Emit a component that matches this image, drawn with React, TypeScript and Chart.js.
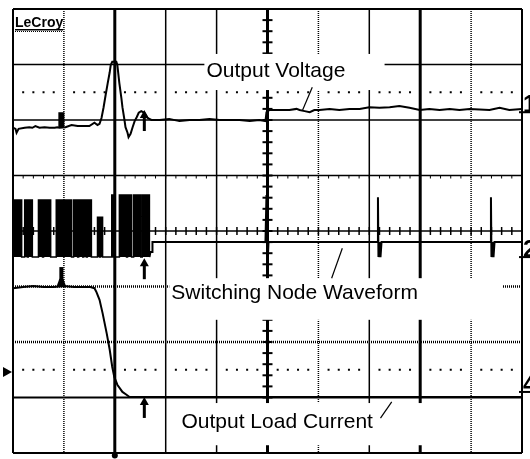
import React, { useEffect, useRef } from "react";
import { Chart, registerables } from "chart.js";

Chart.register(...registerables);

// Time in graticule divisions from screen centre (-5..5), amplitude in divisions (-4..4)
const ch1Time = [-5.0,-4.95,-4.93,-4.89,-4.77,-4.68,-4.62,-4.56,-4.48,-4.38,-4.28,-4.18,-4.13,-4.09,-3.97,-3.85,-3.73,-3.60,-3.50,-3.40,-3.34,-3.30,-3.26,-3.22,-3.18,-3.14,-3.10,-3.08,-3.05,-2.97,-2.95,-2.91,-2.87,-2.85,-2.81,-2.79,-2.75,-2.73,-2.69,-2.65,-2.61,-2.57,-2.53,-2.48,-2.42,-2.36,-2.28,-2.12,-1.93,-1.73,-1.53,-1.34,-1.14,-0.94,-0.75,-0.55,-0.35,-0.16,-0.04,-0.02,0.04,0.24,0.43,0.57,0.63,0.73,0.83,0.92,1.02,1.22,1.41,1.61,1.81,2.00,2.20,2.40,2.59,2.79,2.99,3.18,3.38,3.58,3.77,3.97,4.36,4.56,4.75,5.0];
const ch1Level = [1.86,1.84,1.77,1.84,1.86,1.87,1.86,1.89,1.86,1.87,1.86,1.86,1.87,1.86,1.87,1.91,1.89,1.89,1.89,1.95,1.91,1.93,2.04,2.23,2.45,2.66,2.86,2.99,3.05,3.05,2.99,2.66,2.39,2.23,2.00,1.87,1.77,1.69,1.75,1.87,1.98,2.05,2.13,2.16,2.13,2.04,2.00,2.00,2.02,1.98,2.00,2.00,2.02,2.00,2.00,2.00,1.98,2.00,1.98,2.14,2.18,2.18,2.18,2.20,2.18,2.16,2.14,2.18,2.18,2.20,2.18,2.20,2.20,2.23,2.22,2.23,2.25,2.22,2.18,2.20,2.18,2.20,2.18,2.20,2.18,2.22,2.18,2.20];

const ch2BurstStart = [-5.0,-4.77,-4.70,-4.50,-4.40,-4.15,-3.81,-3.71,-3.61,-3.54,-3.34,-3.28,-3.06,-2.91,-2.75,-2.63,-2.46];
const ch2BurstEnd = [-4.83,-4.72,-4.62,-4.42,-4.26,-3.85,-3.73,-3.63,-3.56,-3.46,-3.30,-3.24,-3.03,-2.77,-2.67,-2.49,-2.32];
const ch2BurstTop = [0.56,0.56,0.56,0.56,0.56,0.56,0.56,0.56,0.56,0.56,0.25,0.25,0.65,0.65,0.65,0.65,0.65];
const ch2Low = -0.47;
const ch2TailTime = [-2.32,-2.30,-2.26,-2.26,-0.04,-0.02,0.00,0.02,2.16,2.17,2.18,2.20,2.22,2.24,4.38,4.39,4.40,4.42,4.44,4.46,5.0];
const ch2TailLevel = [-0.47,-0.38,-0.38,-0.20,-0.20,0.65,-0.60,-0.20,-0.20,0.61,-0.47,-0.20,-0.47,-0.20,-0.20,0.61,-0.47,-0.20,-0.47,-0.20,-0.20];

const ch3Time = [-5.0,-4.8,-4.6,-4.4,-4.2,-4.0,-3.8,-3.6,-3.48,-3.40,-3.36,-3.30,-3.24,-3.16,-3.10,-3.05,-3.01,-2.95,-2.85,-2.77,-2.71,-2.5,5.0];
const ch3Level = [-1.03,-1.01,-0.99,-1.01,-1.01,-0.99,-1.01,-1.01,-1.01,-1.03,-1.10,-1.24,-1.48,-1.84,-2.14,-2.45,-2.63,-2.77,-2.90,-2.95,-2.99,-2.99,-2.99];

const cursorTime = -2.42;
const cursorLevels = [2.18, -0.49, -2.99];
const triggerTime = -4.05;
const channelNames = ["1", "2", "4"];
const channelMarkLevels = [2.14, -0.47, -2.9];
const traceLabels = ["Output Voltage", "Switching Node Waveform", "Output Load Current"];

const pts = (t: number[], v: number[]) => t.map((x, i) => ({ x, y: v[i] }));

function burstPoints() {
  const out: { x: number; y: number }[] = [];
  for (let i = 0; i < ch2BurstStart.length; i++) {
    out.push({ x: ch2BurstStart[i], y: ch2Low });
    out.push({ x: ch2BurstStart[i], y: ch2BurstTop[i] });
    out.push({ x: ch2BurstEnd[i], y: ch2BurstTop[i] });
    out.push({ x: ch2BurstEnd[i], y: ch2Low });
  }
  return out;
}

const graticule = {
  id: "graticule",
  beforeDatasetsDraw(chart: any) {
    const { ctx } = chart;
    const X = (v: number) => chart.scales.x.getPixelForValue(v);
    const Y = (v: number) => chart.scales.y.getPixelForValue(v);
    const top = Y(4), bottom = Y(-4), left = X(-5), right = X(5);
    ctx.save();
    ctx.fillStyle = "#fff";
    ctx.fillRect(0, 0, chart.width, chart.height);
    ctx.strokeStyle = "#000";
    ctx.fillStyle = "#000";
    const seg = (x1: number, y1: number, x2: number, y2: number, w: number, dotted: boolean) => {
      ctx.lineWidth = w;
      ctx.setLineDash(dotted ? [1, 1] : []);
      ctx.beginPath();
      ctx.moveTo(x1, y1);
      ctx.lineTo(x2, y2);
      ctx.stroke();
    };
    const vW = [2, 1.5, 3, 1.5, 1.5, 3, 1.5, 1.5, 3, 1.5, 2];
    const vDot = [false, true, false, false, false, false, true, false, false, true, false];
    for (let i = 0; i <= 10; i++) {
      const x = X(i - 5);
      seg(x, top, x, bottom, vW[i], vDot[i]);
    }
    const hW = [2, 1.5, 1.5, 1.5, 1.5, 2.5, 2.5, 2, 2];
    const hDot = [false, false, false, false, false, true, true, false, false];
    for (let j = 0; j <= 8; j++) {
      const y = Y(4 - j);
      seg(left, y, right, y, hW[j], hDot[j]);
    }
    ctx.setLineDash([]);
    // centre ticks
    for (let k = -25; k <= 25; k++) {
      const x = X(k / 5);
      seg(x, Y(0) - 4, x, Y(0) + 4, 1.5, false);
      seg(x, Y(1), x, Y(1) + 3, 1, false);
    }
    for (let k = -20; k <= 20; k++) {
      const y = Y(k / 5);
      seg(X(0) - 5, y, X(0) + 5, y, 2, false);
    }
    // half-division dotted rows
    for (let k = -25; k <= 25; k++) {
      if (k % 5 === 0) continue;
      const x = X(k / 5);
      ctx.fillRect(x - 1, Y(2.5) - 1, 2, 2);
      ctx.fillRect(x - 1, Y(-2.5) - 1, 2, 2);
    }
    // label boxes erase the graticule
    ctx.fillStyle = "#fff";
    const boxes = [
      [-1.24, 3.19, 2.3, 2.54],
      [-1.93, -0.85, 4.62, -1.6],
      [-1.81, -3.1, 3.48, -3.86],
    ];
    boxes.forEach(([x1, y1, x2, y2]) => ctx.fillRect(X(x1), Y(y1), X(x2) - X(x1), Y(y2) - Y(y1)));
    ctx.fillStyle = "#000";
    ctx.font = '21px "Liberation Sans", Arial, sans-serif';
    ctx.textBaseline = "alphabetic";
    ctx.textAlign = "left";
    const anchors = [
      [-1.2, 2.77],
      [-1.89, -1.23],
      [-1.69, -3.55],
    ];
    traceLabels.forEach((t, i) => ctx.fillText(t, X(anchors[i][0]), Y(anchors[i][1])));
    const leaders = [
      [0.88, 2.59, 0.69, 2.18],
      [1.47, -0.31, 1.26, -0.85],
      [2.44, -3.08, 2.22, -3.37],
    ];
    leaders.forEach(([a, b, c, d]) => seg(X(a), Y(b), X(c), Y(d), 1.2, false));
    ctx.restore();
  },
};

const overlay = {
  id: "overlay",
  afterDatasetsDraw(chart: any) {
    const { ctx } = chart;
    const X = (v: number) => chart.scales.x.getPixelForValue(v);
    const Y = (v: number) => chart.scales.y.getPixelForValue(v);
    ctx.save();
    ctx.fillStyle = "#000";
    ctx.strokeStyle = "#000";
    // trigger markers
    const tx = X(triggerTime);
    ctx.fillRect(tx - 3, Y(2.14), 6, Y(1.86) - Y(2.14));
    ctx.fillRect(tx - 2, Y(-0.65), 4, Y(-1.01) - Y(-0.65));
    ctx.beginPath();
    ctx.moveTo(tx - 5, Y(-1.01));
    ctx.lineTo(tx - 2, Y(-0.86));
    ctx.lineTo(tx + 2, Y(-0.86));
    ctx.lineTo(tx + 5, Y(-1.01));
    ctx.closePath();
    ctx.fill();
    // cursor arrows
    const cx = X(cursorTime);
    cursorLevels.forEach((lv) => {
      const y = Y(lv);
      ctx.beginPath();
      ctx.moveTo(cx, y);
      ctx.lineTo(cx - 4.5, y + 8);
      ctx.lineTo(cx + 4.5, y + 8);
      ctx.closePath();
      ctx.fill();
      ctx.fillRect(cx - 1.5, y + 7, 3, 14);
    });
    // channel markers on the right edge
    ctx.font = '900 24px "Liberation Sans", Arial, sans-serif';
    ctx.textAlign = "left";
    ctx.textBaseline = "alphabetic";
    channelNames.forEach((n, i) => {
      const y = Y(channelMarkLevels[i]);
      ctx.fillText(n, X(5) + 1, y);
      ctx.fillRect(X(5) - 3, y - 1, 12, 2);
    });
    // ground marker on the left
    const gy = Y(-2.54);
    ctx.beginPath();
    ctx.moveTo(3, gy - 5);
    ctx.lineTo(12, gy);
    ctx.lineTo(3, gy + 5);
    ctx.closePath();
    ctx.fill();
    // trigger position dot
    ctx.beginPath();
    ctx.arc(X(-3), Y(-4) + 2.5, 3, 0, Math.PI * 2);
    ctx.fill();
    // logo
    ctx.font = 'bold 14px "Liberation Sans", Arial, sans-serif';
    ctx.fillText("LeCroy", X(-5) + 2, Y(4) + 18);
    ctx.fillRect(X(-5) + 2, Y(4) + 20, 48, 1.5);
    for (let k = 0; k < 24; k++) ctx.fillRect(X(-5) + 2 + k * 2, Y(4) + 22, 1, 1);
    ctx.restore();
  },
};

export default function App() {
  const ref = useRef<HTMLCanvasElement>(null);
  useEffect(() => {
    if (!ref.current) return;
    const line = { borderColor: "#000", borderWidth: 2, pointRadius: 0, tension: 0, fill: false };
    const chart = new Chart(ref.current, {
      type: "line",
      data: {
        datasets: [
          { ...line, label: "Output Voltage", data: pts(ch1Time, ch1Level) },
          {
            ...line,
            label: "Switching bursts",
            data: burstPoints(),
            borderWidth: 1.5,
            fill: { value: ch2Low },
            backgroundColor: "#000",
          },
          { ...line, label: "Switching Node Waveform", data: pts(ch2TailTime, ch2TailLevel) },
          { ...line, label: "Output Load Current", data: pts(ch3Time, ch3Level) },
        ],
      } as any,
      options: {
        animation: false,
        responsive: false,
        maintainAspectRatio: false,
        events: [],
        layout: { padding: { left: 13, top: 9, right: 8, bottom: 6 } },
        scales: {
          x: { type: "linear", min: -5, max: 5, display: false },
          y: { type: "linear", min: -4, max: 4, display: false },
        },
        plugins: { legend: { display: false }, tooltip: { enabled: false } },
      },
      plugins: [graticule, overlay],
    });
    return () => chart.destroy();
  }, []);
  return (
    <div style={{ position: "fixed", left: 0, top: 0, width: 530, height: 459, background: "#fff" }}>
      <canvas ref={ref} width={530} height={459} style={{ width: 530, height: 459, display: "block" }} />
    </div>
  );
}
